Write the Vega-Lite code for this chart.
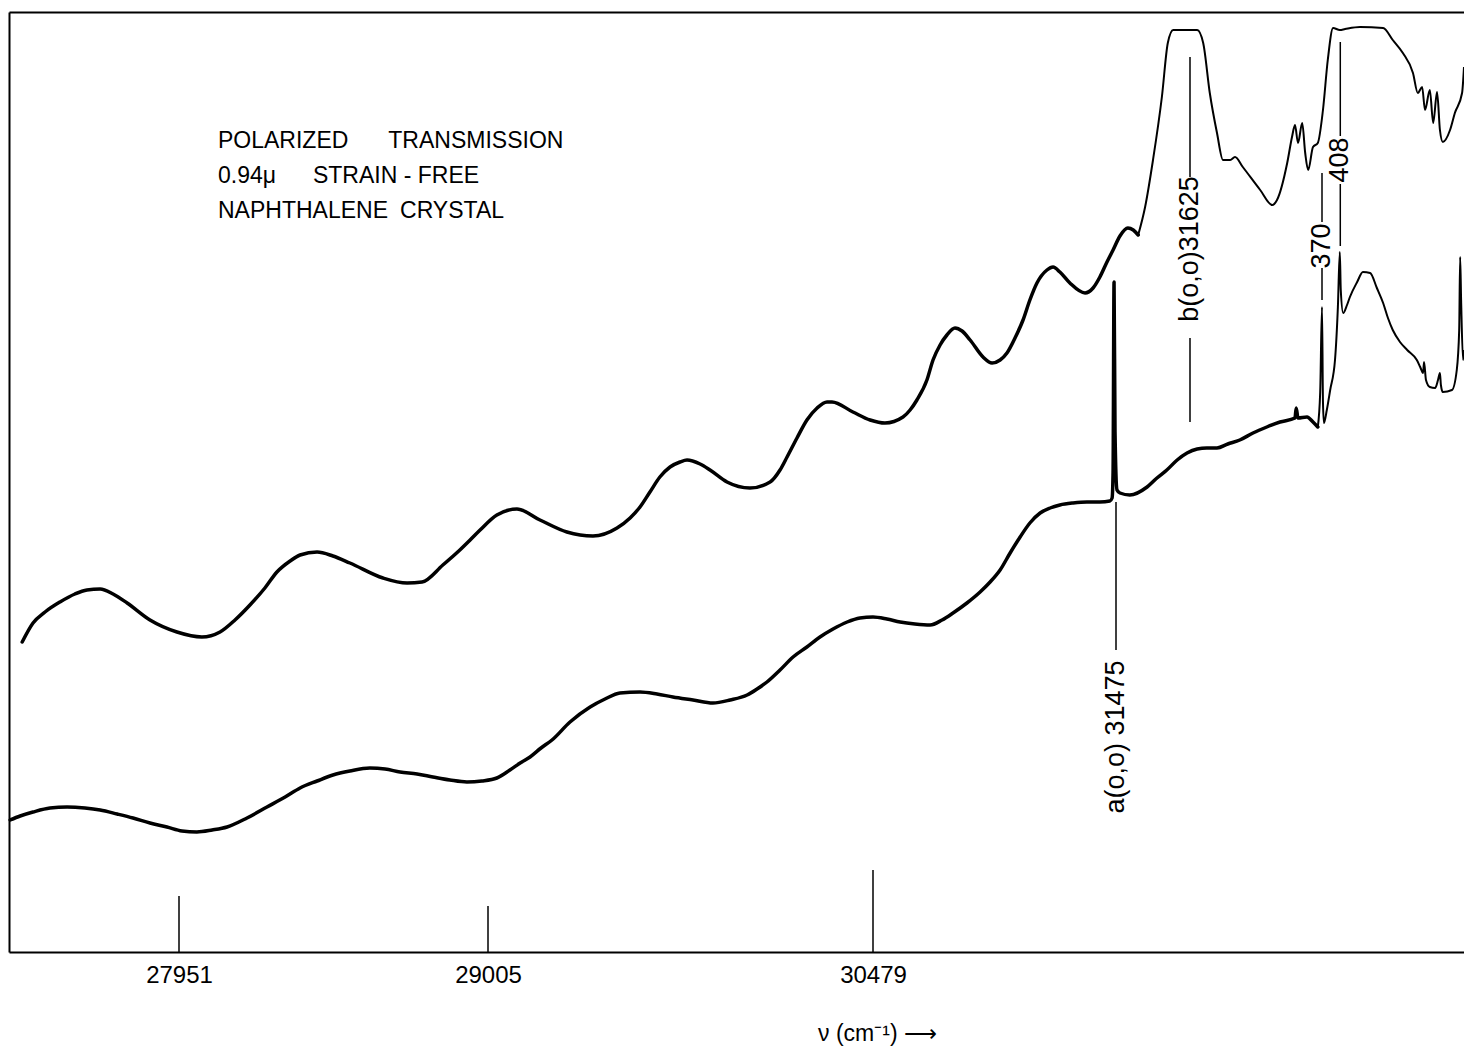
{
  "$schema": "https://vega.github.io/schema/vega-lite/v6.json",
  "width": 1455,
  "height": 940,
  "autosize": {"type": "none"},
  "padding": {"left": 9, "top": 12, "right": 0, "bottom": 94},
  "background": "white",
  "config": {"view": {"stroke": null}},
  "datasets": {
    "main": [
      {"trace":"upper","nu":27416,"T":310},{"trace":"upper","nu":27453,"T":329},{"trace":"upper","nu":27494,"T":340},{"trace":"upper","nu":27545,"T":350},{"trace":"upper","nu":27596,"T":358},{"trace":"upper","nu":27637,"T":362},{"trace":"upper","nu":27682,"T":363},{"trace":"upper","nu":27726,"T":358},{"trace":"upper","nu":27774,"T":349},{"trace":"upper","nu":27852,"T":332},{"trace":"upper","nu":27944,"T":320},{"trace":"upper","nu":28029,"T":315},{"trace":"upper","nu":28091,"T":320},{"trace":"upper","nu":28142,"T":332},{"trace":"upper","nu":28193,"T":347},{"trace":"upper","nu":28244,"T":364},{"trace":"upper","nu":28285,"T":380},{"trace":"upper","nu":28330,"T":391},{"trace":"upper","nu":28364,"T":397},{"trace":"upper","nu":28422,"T":400},{"trace":"upper","nu":28476,"T":396},{"trace":"upper","nu":28534,"T":389},{"trace":"upper","nu":28647,"T":374},{"trace":"upper","nu":28729,"T":369},{"trace":"upper","nu":28780,"T":370},{"trace":"upper","nu":28851,"T":387},{"trace":"upper","nu":28909,"T":402},{"trace":"upper","nu":28944,"T":412},{"trace":"upper","nu":28978,"T":422},{"trace":"upper","nu":29039,"T":437},{"trace":"upper","nu":29116,"T":443},{"trace":"upper","nu":29204,"T":432},{"trace":"upper","nu":29307,"T":420},{"trace":"upper","nu":29407,"T":416},{"trace":"upper","nu":29499,"T":424},{"trace":"upper","nu":29549,"T":434},{"trace":"upper","nu":29587,"T":445},{"trace":"upper","nu":29625,"T":460},{"trace":"upper","nu":29663,"T":475},{"trace":"upper","nu":29702,"T":485},{"trace":"upper","nu":29740,"T":490},{"trace":"upper","nu":29767,"T":492},{"trace":"upper","nu":29817,"T":488},{"trace":"upper","nu":29855,"T":482},{"trace":"upper","nu":29920,"T":470},{"trace":"upper","nu":30008,"T":464},{"trace":"upper","nu":30085,"T":470},{"trace":"upper","nu":30123,"T":482},{"trace":"upper","nu":30150,"T":495},{"trace":"upper","nu":30188,"T":514},{"trace":"upper","nu":30226,"T":532},{"trace":"upper","nu":30265,"T":544},{"trace":"upper","nu":30303,"T":550},{"trace":"upper","nu":30322,"T":550},{"trace":"upper","nu":30402,"T":540},{"trace":"upper","nu":30468,"T":532},{"trace":"upper","nu":30528,"T":529},{"trace":"upper","nu":30602,"T":535},{"trace":"upper","nu":30631,"T":542},{"trace":"upper","nu":30659,"T":552},{"trace":"upper","nu":30700,"T":572},{"trace":"upper","nu":30725,"T":592},{"trace":"upper","nu":30754,"T":607},{"trace":"upper","nu":30782,"T":617},{"trace":"upper","nu":30815,"T":624},{"trace":"upper","nu":30844,"T":621},{"trace":"upper","nu":30877,"T":612},{"trace":"upper","nu":30930,"T":595},{"trace":"upper","nu":30967,"T":589},{"trace":"upper","nu":31000,"T":592},{"trace":"upper","nu":31028,"T":599},{"trace":"upper","nu":31061,"T":614},{"trace":"upper","nu":31094,"T":632},{"trace":"upper","nu":31122,"T":652},{"trace":"upper","nu":31151,"T":669},{"trace":"upper","nu":31192,"T":682},{"trace":"upper","nu":31217,"T":685},{"trace":"upper","nu":31245,"T":680},{"trace":"upper","nu":31286,"T":669},{"trace":"upper","nu":31348,"T":659},{"trace":"upper","nu":31381,"T":664},{"trace":"upper","nu":31409,"T":675},{"trace":"upper","nu":31438,"T":690},{"trace":"upper","nu":31463,"T":702},{"trace":"upper","nu":31483,"T":716},{"trace":"upper","nu":31499,"T":724},{"trace":"upper","nu":31510,"T":722},{"trace":"upper","nu":31520,"T":717},
      {"trace":"lower","nu":27375,"T":132},{"trace":"lower","nu":27409,"T":136},{"trace":"lower","nu":27453,"T":140},{"trace":"lower","nu":27511,"T":144},{"trace":"lower","nu":27569,"T":145},{"trace":"lower","nu":27630,"T":144},{"trace":"lower","nu":27682,"T":142},{"trace":"lower","nu":27740,"T":138},{"trace":"lower","nu":27794,"T":134},{"trace":"lower","nu":27852,"T":129},{"trace":"lower","nu":27910,"T":125},{"trace":"lower","nu":27961,"T":121},{"trace":"lower","nu":28012,"T":120},{"trace":"lower","nu":28064,"T":122},{"trace":"lower","nu":28115,"T":125},{"trace":"lower","nu":28183,"T":134},{"trace":"lower","nu":28251,"T":145},{"trace":"lower","nu":28313,"T":155},{"trace":"lower","nu":28364,"T":164},{"trace":"lower","nu":28422,"T":171},{"trace":"lower","nu":28476,"T":177},{"trace":"lower","nu":28534,"T":181},{"trace":"lower","nu":28602,"T":184},{"trace":"lower","nu":28654,"T":183},{"trace":"lower","nu":28705,"T":180},{"trace":"lower","nu":28763,"T":178},{"trace":"lower","nu":28817,"T":175},{"trace":"lower","nu":28875,"T":172},{"trace":"lower","nu":28933,"T":170},{"trace":"lower","nu":28984,"T":171},{"trace":"lower","nu":29039,"T":174},{"trace":"lower","nu":29089,"T":182},{"trace":"lower","nu":29128,"T":189},{"trace":"lower","nu":29166,"T":195},{"trace":"lower","nu":29208,"T":204},{"trace":"lower","nu":29250,"T":212},{"trace":"lower","nu":29319,"T":230},{"trace":"lower","nu":29396,"T":245},{"trace":"lower","nu":29453,"T":253},{"trace":"lower","nu":29510,"T":259},{"trace":"lower","nu":29587,"T":260},{"trace":"lower","nu":29652,"T":258},{"trace":"lower","nu":29713,"T":255},{"trace":"lower","nu":29790,"T":252},{"trace":"lower","nu":29866,"T":249},{"trace":"lower","nu":29932,"T":252},{"trace":"lower","nu":29997,"T":257},{"trace":"lower","nu":30035,"T":263},{"trace":"lower","nu":30073,"T":270},{"trace":"lower","nu":30123,"T":282},{"trace":"lower","nu":30173,"T":295},{"trace":"lower","nu":30226,"T":305},{"trace":"lower","nu":30276,"T":315},{"trace":"lower","nu":30326,"T":323},{"trace":"lower","nu":30380,"T":330},{"trace":"lower","nu":30429,"T":334},{"trace":"lower","nu":30479,"T":335},{"trace":"lower","nu":30536,"T":333},{"trace":"lower","nu":30590,"T":330},{"trace":"lower","nu":30651,"T":328},{"trace":"lower","nu":30713,"T":327},{"trace":"lower","nu":30762,"T":332},{"trace":"lower","nu":30807,"T":339},{"trace":"lower","nu":30864,"T":349},{"trace":"lower","nu":30918,"T":360},{"trace":"lower","nu":30959,"T":370},{"trace":"lower","nu":31000,"T":382},{"trace":"lower","nu":31041,"T":399},{"trace":"lower","nu":31082,"T":415},{"trace":"lower","nu":31122,"T":429},{"trace":"lower","nu":31164,"T":439},{"trace":"lower","nu":31205,"T":444},{"trace":"lower","nu":31245,"T":447},{"trace":"lower","nu":31299,"T":449},{"trace":"lower","nu":31356,"T":450},{"trace":"lower","nu":31409,"T":450},{"trace":"lower","nu":31450,"T":451},{"trace":"lower","nu":31459,"T":454},{"trace":"lower","nu":31463,"T":480},{"trace":"lower","nu":31467,"T":670},{"trace":"lower","nu":31471,"T":520},{"trace":"lower","nu":31477,"T":462},{"trace":"lower","nu":31483,"T":459},{"trace":"lower","nu":31503,"T":457},{"trace":"lower","nu":31538,"T":465},{"trace":"lower","nu":31558,"T":474},{"trace":"lower","nu":31578,"T":482},{"trace":"lower","nu":31599,"T":492},{"trace":"lower","nu":31619,"T":499},{"trace":"lower","nu":31637,"T":503},{"trace":"lower","nu":31653,"T":504},{"trace":"lower","nu":31670,"T":504},{"trace":"lower","nu":31688,"T":508},{"trace":"lower","nu":31708,"T":512},{"trace":"lower","nu":31730,"T":519},{"trace":"lower","nu":31753,"T":525},{"trace":"lower","nu":31775,"T":530},{"trace":"lower","nu":31800,"T":534},{"trace":"lower","nu":31802,"T":544},{"trace":"lower","nu":31805,"T":534},{"trace":"lower","nu":31820,"T":535},{"trace":"lower","nu":31830,"T":530},{"trace":"lower","nu":31838,"T":525}
    ],
    "band": [
      {"trace":"upper","nu":31520,"T":717},{"trace":"upper","nu":31534,"T":745},{"trace":"upper","nu":31550,"T":792},{"trace":"upper","nu":31568,"T":855},{"trace":"upper","nu":31580,"T":909},{"trace":"upper","nu":31591,"T":922},{"trace":"upper","nu":31637,"T":922},{"trace":"upper","nu":31647,"T":909},{"trace":"upper","nu":31658,"T":859},{"trace":"upper","nu":31670,"T":819},{"trace":"upper","nu":31680,"T":792},{"trace":"upper","nu":31692,"T":792},{"trace":"upper","nu":31700,"T":795},{"trace":"upper","nu":31713,"T":785},{"trace":"upper","nu":31742,"T":762},{"trace":"upper","nu":31762,"T":747},{"trace":"upper","nu":31770,"T":752},{"trace":"upper","nu":31787,"T":789},{"trace":"upper","nu":31795,"T":815},{"trace":"upper","nu":31800,"T":827},{"trace":"upper","nu":31805,"T":809},{"trace":"upper","nu":31812,"T":829},{"trace":"upper","nu":31817,"T":799},{"trace":"upper","nu":31822,"T":782},{"trace":"upper","nu":31830,"T":805},{"trace":"upper","nu":31838,"T":809},{"trace":"upper","nu":31847,"T":842},{"trace":"upper","nu":31857,"T":892},{"trace":"upper","nu":31868,"T":924},{"trace":"upper","nu":31882,"T":922},{"trace":"upper","nu":31893,"T":923},{"trace":"upper","nu":31924,"T":925},{"trace":"upper","nu":31972,"T":924},{"trace":"upper","nu":31992,"T":912},{"trace":"upper","nu":32013,"T":899},{"trace":"upper","nu":32034,"T":879},{"trace":"upper","nu":32044,"T":859},{"trace":"upper","nu":32053,"T":865},{"trace":"upper","nu":32059,"T":842},{"trace":"upper","nu":32069,"T":862},{"trace":"upper","nu":32076,"T":829},{"trace":"upper","nu":32084,"T":860},{"trace":"upper","nu":32090,"T":822},{"trace":"upper","nu":32096,"T":810},{"trace":"upper","nu":32111,"T":822},{"trace":"upper","nu":32121,"T":839},{"trace":"upper","nu":32136,"T":859},{"trace":"upper","nu":32140,"T":885},
      {"trace":"lower","nu":31838,"T":525},{"trace":"lower","nu":31842,"T":560},{"trace":"lower","nu":31845,"T":645},{"trace":"lower","nu":31847,"T":550},{"trace":"lower","nu":31849,"T":529},{"trace":"lower","nu":31855,"T":542},{"trace":"lower","nu":31862,"T":562},{"trace":"lower","nu":31872,"T":592},{"trace":"lower","nu":31878,"T":645},{"trace":"lower","nu":31882,"T":700},{"trace":"lower","nu":31884,"T":662},{"trace":"lower","nu":31889,"T":639},{"trace":"lower","nu":31897,"T":647},{"trace":"lower","nu":31903,"T":655},{"trace":"lower","nu":31918,"T":670},{"trace":"lower","nu":31930,"T":680},{"trace":"lower","nu":31945,"T":679},{"trace":"lower","nu":31959,"T":664},{"trace":"lower","nu":31972,"T":649},{"trace":"lower","nu":31982,"T":634},{"trace":"lower","nu":31992,"T":622},{"trace":"lower","nu":32007,"T":610},{"trace":"lower","nu":32022,"T":602},{"trace":"lower","nu":32042,"T":592},{"trace":"lower","nu":32049,"T":585},{"trace":"lower","nu":32055,"T":579},{"trace":"lower","nu":32057,"T":590},{"trace":"lower","nu":32061,"T":572},{"trace":"lower","nu":32069,"T":565},{"trace":"lower","nu":32080,"T":564},{"trace":"lower","nu":32086,"T":572},{"trace":"lower","nu":32090,"T":579},{"trace":"lower","nu":32092,"T":567},{"trace":"lower","nu":32096,"T":560},{"trace":"lower","nu":32115,"T":562},{"trace":"lower","nu":32125,"T":582},{"trace":"lower","nu":32130,"T":622},{"trace":"lower","nu":32132,"T":695},{"trace":"lower","nu":32134,"T":652},{"trace":"lower","nu":32138,"T":592},{"trace":"lower","nu":32140,"T":602}
    ],
    "calib": [
      {"nu":27951,"T":0,"T2":56},{"nu":29005,"T":0,"T2":46},{"nu":30479,"T":0,"T2":82}
    ],
    "markerLines": [
      {"nu":31475,"T":450,"T2":302},
      {"nu":31625,"T":895,"T2":775},{"nu":31625,"T":614,"T2":530},
      {"nu":31845,"T":779,"T2":730},{"nu":31845,"T":684,"T2":652},
      {"nu":31883,"T":910,"T2":816},{"nu":31883,"T":768,"T2":706}
    ],
    "markerLabels": [
      {"nu":31475,"T":215,"label":"a(o,o) 31475"},
      {"nu":31625,"T":703,"label":"b(o,o)31625"},
      {"nu":31845,"T":706,"label":"370"},
      {"nu":31883,"T":792,"label":"408"}
    ],
    "notes": [
      {"nu":28084,"T":804,"text":"POLARIZED"},
      {"nu":28665,"T":804,"text":"TRANSMISSION"},
      {"nu":28084,"T":769,"text":"0.94μ"},
      {"nu":28408,"T":769,"text":"STRAIN - FREE"},
      {"nu":28084,"T":734,"text":"NAPHTHALENE"},
      {"nu":28705,"T":734,"text":"CRYSTAL"}
    ]
  },
  "resolve": {"axis": {"x": "independent", "y": "independent"}},
  "layer": [
    {
      "data": {"name": "main"},
      "mark": {"type": "line", "color": "black", "strokeWidth": 3.5, "interpolate": "monotone", "strokeCap": "round", "strokeJoin": "round"},
      "encoding": {
        "x": {"field": "nu", "type": "quantitative",
              "scale": {"domain": [27371, 27951, 29005, 30479, 31475, 31625, 31845, 32140], "range": [0, 170, 479, 864, 1107, 1181, 1313, 1455], "nice": false, "zero": false},
              "axis": {"orient": "bottom", "values": [27951, 29005, 30479], "format": "d", "ticks": false, "grid": false, "domainColor": "black", "domainWidth": 2, "labelFont": "Liberation Sans", "labelFontSize": 24, "labelColor": "black", "labelPadding": 11, "labelFlush": false, "labelOverlap": false, "title": "ν (cm⁻¹) ⟶", "titleFont": "Liberation Sans", "titleFontSize": 23, "titleFontWeight": "normal", "titleColor": "black", "titleX": 868, "titleY": 88, "titleAlign": "center", "titleBaseline": "alphabetic"}},
        "y": {"field": "T", "type": "quantitative",
              "scale": {"domain": [0, 940], "nice": false, "zero": false},
              "axis": {"orient": "left", "domainColor": "black", "domainWidth": 2, "ticks": false, "labels": false, "grid": false, "title": null}},
        "detail": {"field": "trace"}
      }
    },
    {
      "data": {"name": "band"},
      "mark": {"type": "line", "color": "black", "strokeWidth": 2, "interpolate": "monotone", "strokeJoin": "round"},
      "encoding": {
        "x": {"field": "nu", "type": "quantitative",
              "scale": {"domain": [27371, 27951, 29005, 30479, 31475, 31625, 31845, 32140], "range": [0, 170, 479, 864, 1107, 1181, 1313, 1455], "nice": false, "zero": false},
              "axis": {"orient": "top", "domainColor": "black", "domainWidth": 2, "ticks": false, "labels": false, "grid": false, "title": null}},
        "y": {"field": "T", "type": "quantitative", "scale": {"domain": [0, 940], "nice": false, "zero": false}, "axis": null},
        "detail": {"field": "trace"}
      }
    },
    {
      "data": {"name": "calib"},
      "mark": {"type": "rule", "color": "black", "strokeWidth": 1.5},
      "encoding": {
        "x": {"field": "nu", "type": "quantitative", "axis": null},
        "y": {"field": "T", "type": "quantitative", "axis": null},
        "y2": {"field": "T2"}
      }
    },
    {
      "data": {"name": "markerLines"},
      "mark": {"type": "rule", "color": "black", "strokeWidth": 1.5},
      "encoding": {
        "x": {"field": "nu", "type": "quantitative", "axis": null},
        "y": {"field": "T", "type": "quantitative", "axis": null},
        "y2": {"field": "T2"}
      }
    },
    {
      "data": {"name": "markerLabels"},
      "mark": {"type": "text", "angle": 270, "align": "center", "baseline": "middle", "font": "Liberation Sans", "fontSize": 27, "color": "black"},
      "encoding": {
        "x": {"field": "nu", "type": "quantitative", "axis": null},
        "y": {"field": "T", "type": "quantitative", "axis": null},
        "text": {"field": "label"}
      }
    },
    {
      "data": {"name": "notes"},
      "mark": {"type": "text", "align": "left", "baseline": "alphabetic", "font": "Liberation Sans", "fontSize": 23, "color": "black"},
      "encoding": {
        "x": {"field": "nu", "type": "quantitative", "axis": null},
        "y": {"field": "T", "type": "quantitative", "axis": null},
        "text": {"field": "text"}
      }
    }
  ]
}
